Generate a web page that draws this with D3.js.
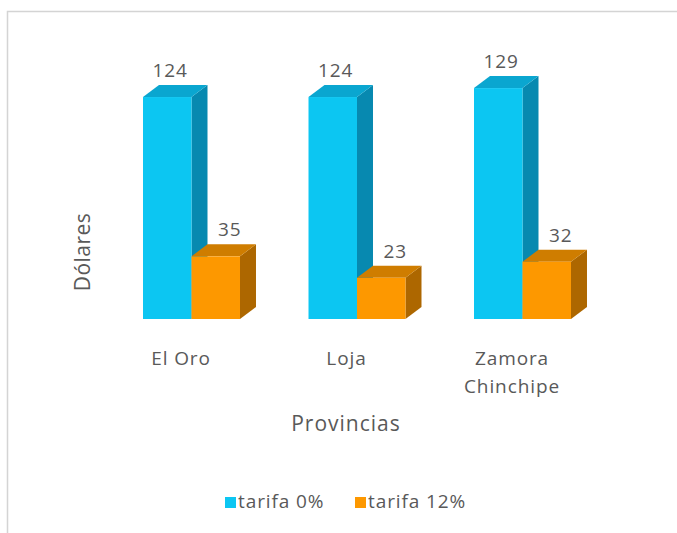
<!DOCTYPE html>
<html>
<head>
<meta charset="utf-8">
<script src="https://cdn.jsdelivr.net/npm/d3@7"></script>
<style>
	body { margin: 0; background: #fff; }
	svg text { font-family: "Open Sans", "Noto Sans", sans-serif; fill: #595959; }
	.lbl { font-size: 19px; letter-spacing: 0.9px; }
	.title { font-size: 21px; letter-spacing: 1px; }
</style>
</head>
<body>
<svg id="chart"></svg>
<script>
var categories = [["El Oro"], ["Loja"], ["Zamora", "Chinchipe"]];
var series = ["tarifa 0%", "tarifa 12%"];
var tarifa0 = [124, 124, 129];
var tarifa12 = [35, 23, 32];

var width = 677, height = 533;
var svg = d3.select("#chart").attr("width", width).attr("height", height);

// chart frame, runs off the right and bottom of the picture
svg.append("rect")
	.attr("x", 7.5).attr("y", 11.5)
	.attr("width", 700).attr("height", 600)
	.style("fill", "none").style("stroke", "#d4d4d4").style("stroke-width", 1.5);

var names = categories.map(function(c) { return c.join(" "); });
var x = d3.scaleBand().domain(names)
	.range([108.75, 605.25])
	.paddingInner(0.414)
	.paddingOuter(0.207);
var xs = d3.scaleBand().domain(series).range([0, x.bandwidth()]);
var y = d3.scaleLinear().domain([0, 140]).range([319, 68.4]);

// 3d depth of the boxes
var dx = 16, dy = 12;

var colors = {
	"tarifa 0%": { front: "#0cc6f2", top: "#0aa6d0", side: "#0789b0" },
	"tarifa 12%": { front: "#fd9800", top: "#cf7d00", side: "#ad6700" }
};
// label nudges, Excel puts them a bit to the right
var labelShift = { "tarifa 0%": 3, "tarifa 12%": 14 };

var rows = [];
names.forEach(function(n, i) {
	rows.push({ cat: n, s: series[0], v: tarifa0[i] });
	rows.push({ cat: n, s: series[1], v: tarifa12[i] });
});

var bars = svg.append("g");
rows.forEach(function(d) {
	var x0 = x(d.cat) + xs(d.s), x1 = x0 + xs.bandwidth();
	var y0 = y(0), y1 = y(d.v);
	var c = colors[d.s];
	var g = bars.append("g");
	// side face
	g.append("path")
		.attr("d", "M" + x1 + "," + y0 + " L" + x1 + "," + y1 + " L" + (x1 + dx) + "," + (y1 - dy) +
			" L" + (x1 + dx) + "," + (y0 - dy) + " Z")
		.style("fill", c.side);
	// top face
	g.append("path")
		.attr("d", "M" + x0 + "," + y1 + " L" + (x0 + dx) + "," + (y1 - dy) + " L" + (x1 + dx) + "," + (y1 - dy) +
			" L" + x1 + "," + y1 + " Z")
		.style("fill", c.top);
	// front face
	g.append("rect")
		.attr("x", x0).attr("y", y1)
		.attr("width", xs.bandwidth()).attr("height", y0 - y1)
		.style("fill", c.front);
	g.append("text")
		.attr("class", "lbl")
		.attr("x", (x0 + x1) / 2 + labelShift[d.s])
		.attr("y", y1 - dy - 8)
		.attr("text-anchor", "middle")
		.text(d.v);
});

// category labels
categories.forEach(function(lines, i) {
	var t = svg.append("text")
		.attr("class", "lbl")
		.attr("x", x(names[i]) + 38)
		.attr("y", 365)
		.attr("text-anchor", "middle");
	lines.forEach(function(l, k) {
		t.append("tspan").attr("x", x(names[i]) + 38).attr("dy", k ? 28 : 0).text(l);
	});
});

svg.append("text")
	.attr("class", "title")
	.attr("x", 346).attr("y", 431)
	.attr("text-anchor", "middle")
	.text("Provincias");

svg.append("text")
	.attr("class", "title")
	.attr("transform", "translate(90,252) rotate(-90)")
	.attr("text-anchor", "middle")
	.style("letter-spacing", "0.5px")
	.text("Dólares");

// legend
var legend = svg.append("g");
var lx = [225, 355];
series.forEach(function(s, i) {
	legend.append("rect")
		.attr("x", lx[i]).attr("y", 497)
		.attr("width", 11).attr("height", 11)
		.style("fill", colors[s].front);
	legend.append("text")
		.attr("class", "lbl")
		.attr("x", lx[i] + 13).attr("y", 508)
		.text(s);
});
</script>
</body>
</html>
